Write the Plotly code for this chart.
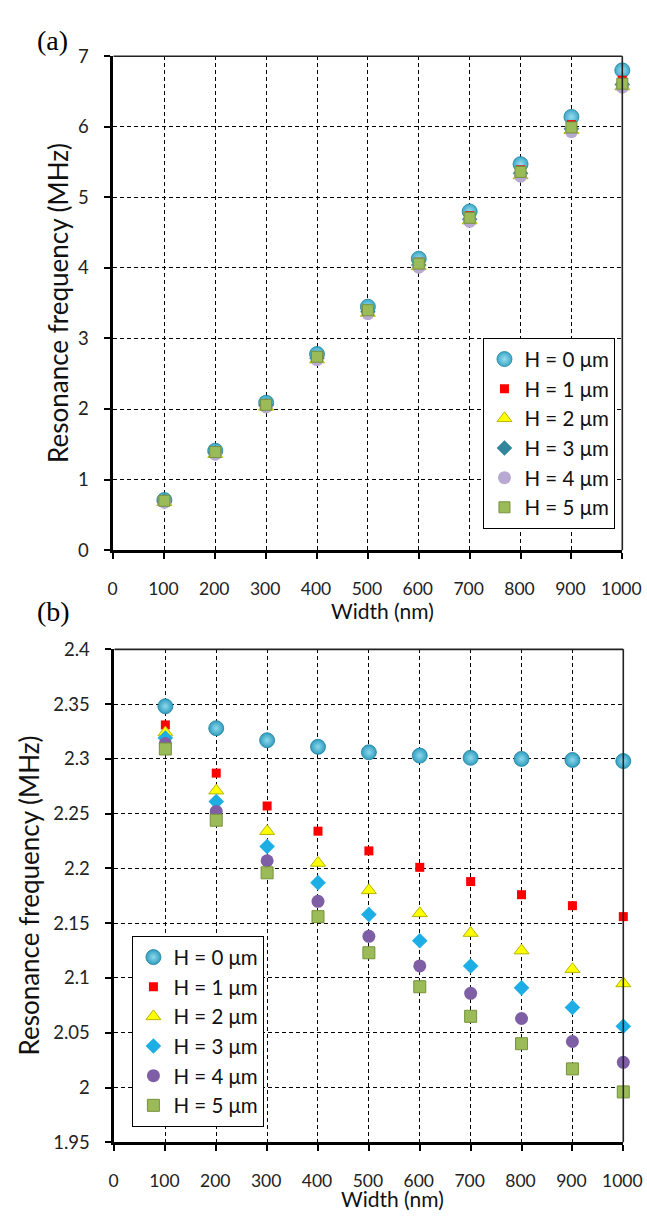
import plotly.graph_objects as go

# ---------------- data ----------------
widths = [100, 200, 300, 400, 500, 600, 700, 800, 900, 1000]
series_names = ["H = 0 μm", "H = 1 μm", "H = 2 μm", "H = 3 μm", "H = 4 μm", "H = 5 μm"]

# panel (a)
a_h0 = [0.71, 1.41, 2.09, 2.78, 3.45, 4.13, 4.80, 5.47, 6.14, 6.80]
a_h1 = [0.70, 1.40, 2.07, 2.75, 3.41, 4.08, 4.74, 5.39, 6.03, 6.66]
a_h2 = [0.68, 1.36, 2.03, 2.70, 3.36, 4.02, 4.67, 5.31, 5.95, 6.57]
a_h3 = [0.69, 1.38, 2.05, 2.72, 3.38, 4.04, 4.69, 5.34, 5.97, 6.60]
a_h4 = [0.68, 1.36, 2.03, 2.70, 3.35, 4.01, 4.66, 5.30, 5.93, 6.56]
a_h5 = [0.70, 1.39, 2.06, 2.74, 3.40, 4.06, 4.71, 5.36, 5.99, 6.61]

# panel (b)
b_h0 = [2.348, 2.328, 2.317, 2.311, 2.306, 2.303, 2.301, 2.300, 2.299, 2.298]
b_h1 = [2.331, 2.287, 2.257, 2.234, 2.216, 2.201, 2.188, 2.176, 2.166, 2.156]
b_h2 = [2.324, 2.271, 2.234, 2.205, 2.180, 2.159, 2.141, 2.125, 2.108, 2.095]
b_h3 = [2.319, 2.261, 2.220, 2.187, 2.158, 2.134, 2.111, 2.091, 2.073, 2.056]
b_h4 = [2.314, 2.252, 2.207, 2.170, 2.138, 2.111, 2.086, 2.063, 2.042, 2.023]
b_h5 = [2.309, 2.244, 2.196, 2.156, 2.123, 2.092, 2.065, 2.040, 2.017, 1.996]

x_ticks = [0, 100, 200, 300, 400, 500, 600, 700, 800, 900, 1000]
a_yticks = [0, 1, 2, 3, 4, 5, 6, 7]
b_yticks = [1.95, 2.0, 2.05, 2.1, 2.15, 2.2, 2.25, 2.3, 2.35, 2.4]
b_yticklabels = ["1.95", "2", "2.05", "2.1", "2.15", "2.2", "2.25", "2.3", "2.35", "2.4"]

# ---------------- layout geometry ----------------
FONT = "Lato, 'Open Sans', sans-serif"
TARGET_W, TARGET_H = 647, 1223
W, H = TARGET_W + 16, TARGET_H          # figure fills the whole rendered page
SX = TARGET_W / W                        # page -> picture horizontal scale


def px_x(p):
    """picture x pixel -> paper fraction"""
    return (p / SX) / W


def px_y(p):
    """picture y pixel (from top) -> paper fraction"""
    return 1 - p / H


styles_a = [
    dict(symbol="circle", size=15, color="#3aa9c8", line=dict(color="#1f7f9c", width=0.8),
         gradient=dict(type="radial", color="#9adcee")),
    dict(symbol="square", size=9, color="#ff0000", line=dict(width=0)),
    dict(symbol="triangle-up", size=13, color="#ffff00", line=dict(color="#b5b500", width=1)),
    dict(symbol="diamond", size=12, color="#31859c", line=dict(width=0)),
    dict(symbol="circle", size=13, color="#b7a9d1", line=dict(width=0)),
    dict(symbol="square", size=11, color="#9bbb59", line=dict(color="#76923c", width=1)),
]
styles_b = [
    dict(symbol="circle", size=15, color="#2f9ec0", line=dict(color="#1f7f9c", width=0.8),
         gradient=dict(type="radial", color="#8fd8ec")),
    dict(symbol="square", size=9, color="#ff0000", line=dict(width=0)),
    dict(symbol="triangle-up", size=13, color="#ffff00", line=dict(color="#b5b500", width=1)),
    dict(symbol="diamond", size=12, color="#1eaee6", line=dict(width=0)),
    dict(symbol="circle", size=13, color="#7e5fa6", line=dict(width=0)),
    dict(symbol="square", size=12, color="#9bbb59", line=dict(color="#76923c", width=1)),
]

fig = go.Figure()

a_data = [a_h0, a_h1, a_h2, a_h3, a_h4, a_h5]
b_data = [b_h0, b_h1, b_h2, b_h3, b_h4, b_h5]

for name, ys, st in zip(series_names, a_data, styles_a):
    fig.add_trace(go.Scatter(x=widths, y=ys, mode="markers", name=name, marker=st,
                             xaxis="x", yaxis="y", legend="legend", cliponaxis=False,
                             hoverinfo="skip"))
for name, ys, st in zip(series_names, b_data, styles_b):
    fig.add_trace(go.Scatter(x=widths, y=ys, mode="markers", name=name, marker=st,
                             xaxis="x2", yaxis="y2", legend="legend2", cliponaxis=False,
                             hoverinfo="skip"))

common_x = dict(range=[0, 1000], tickvals=x_ticks, ticktext=[str(v) for v in x_ticks],
                showgrid=True, gridcolor="#000000", griddash="4px,3px", gridwidth=1.3,
                showline=True, linecolor="#000000", linewidth=3, mirror=False,
                ticks="outside", ticklen=6, tickwidth=1.5, tickcolor="#000000",
                ticklabelstandoff=15, ticklabelshift=-1, ticklabeloverflow="allow",
                zeroline=False,
                tickfont=dict(family=FONT, size=17.5, color="#222222"))
common_y = dict(showgrid=True, gridcolor="#000000", griddash="4px,3px", gridwidth=1.3,
                showline=True, linecolor="#000000", linewidth=3, mirror=False,
                ticks="outside", ticklen=6, tickwidth=1.5, tickcolor="#000000",
                ticklabelstandoff=12, zeroline=False,
                tickfont=dict(family=FONT, size=18.5, color="#222222"))

fig.update_layout(
    width=W, height=H,
    margin=dict(l=0, r=0, t=0, b=0),
    paper_bgcolor="white", plot_bgcolor="white",
    showlegend=True,
    xaxis=dict(domain=[px_x(109), px_x(625)], anchor="y", **common_x),
    yaxis=dict(domain=[px_y(548), px_y(45)], anchor="x", range=[0, 7],
               tickvals=a_yticks, ticktext=[str(v) for v in a_yticks], **common_y),
    xaxis2=dict(domain=[px_x(110), px_x(626)], anchor="y2", **common_x),
    yaxis2=dict(domain=[px_y(1151), px_y(649)], anchor="x2", range=[1.95, 2.4],
                tickvals=b_yticks, ticktext=b_yticklabels, **common_y),
    legend=dict(x=px_x(484), y=px_y(332), xanchor="left", yanchor="top",
                bgcolor="white", bordercolor="#000000", borderwidth=1.2,
                font=dict(family=FONT, size=20.5, color="#111111"), tracegroupgap=0),
    legend2=dict(x=px_x(128), y=px_y(941), xanchor="left", yanchor="top",
                 bgcolor="white", bordercolor="#000000", borderwidth=1.2,
                 font=dict(family=FONT, size=20.5, color="#111111"), tracegroupgap=0),
)

# thin top/right frame lines
for xr, yr in (("x domain", "y domain"), ("x2 domain", "y2 domain")):
    fig.add_shape(type="line", xref=xr, yref=yr, x0=0, x1=1, y0=1, y1=1,
                  line=dict(color="#222222", width=1.6), layer="above")
    fig.add_shape(type="line", xref=xr, yref=yr, x0=1, x1=1, y0=0, y1=1,
                  line=dict(color="#222222", width=1.6), layer="above")

xtitle_font = dict(family=FONT, size=21, color="#111111")
ytitle_font = dict(family=FONT, size=26, color="#111111")
annos = [
    dict(text="Width (nm)", x=px_x(382), y=px_y(609), font=xtitle_font),
    dict(text="Width (nm)", x=px_x(392), y=px_y(1208), font=xtitle_font),
    dict(text="Resonance frequency (MHz)", x=px_x(52), y=px_y(296), textangle=-90, font=ytitle_font),
    dict(text="Resonance frequency (MHz)", x=px_x(23), y=px_y(900), textangle=-90, font=ytitle_font),
]
for a in annos:
    fig.add_annotation(xref="paper", yref="paper", showarrow=False,
                       xanchor="center", yanchor="middle", **a)

panel_font = dict(family="'Liberation Serif', 'Times New Roman', serif", size=28, color="#000000")
fig.add_annotation(text="(a)", x=px_x(47), y=px_y(29), xref="paper", yref="paper",
                   showarrow=False, xanchor="center", yanchor="middle", font=panel_font)
fig.add_annotation(text="(b)", x=px_x(48), y=px_y(610), xref="paper", yref="paper",
                   showarrow=False, xanchor="center", yanchor="middle", font=panel_font)

# the figure occupies the whole page: drop the default body margin
fig.write_html("out.html", config={"displayModeBar": False},
               post_script="document.body.style.margin='0';")
